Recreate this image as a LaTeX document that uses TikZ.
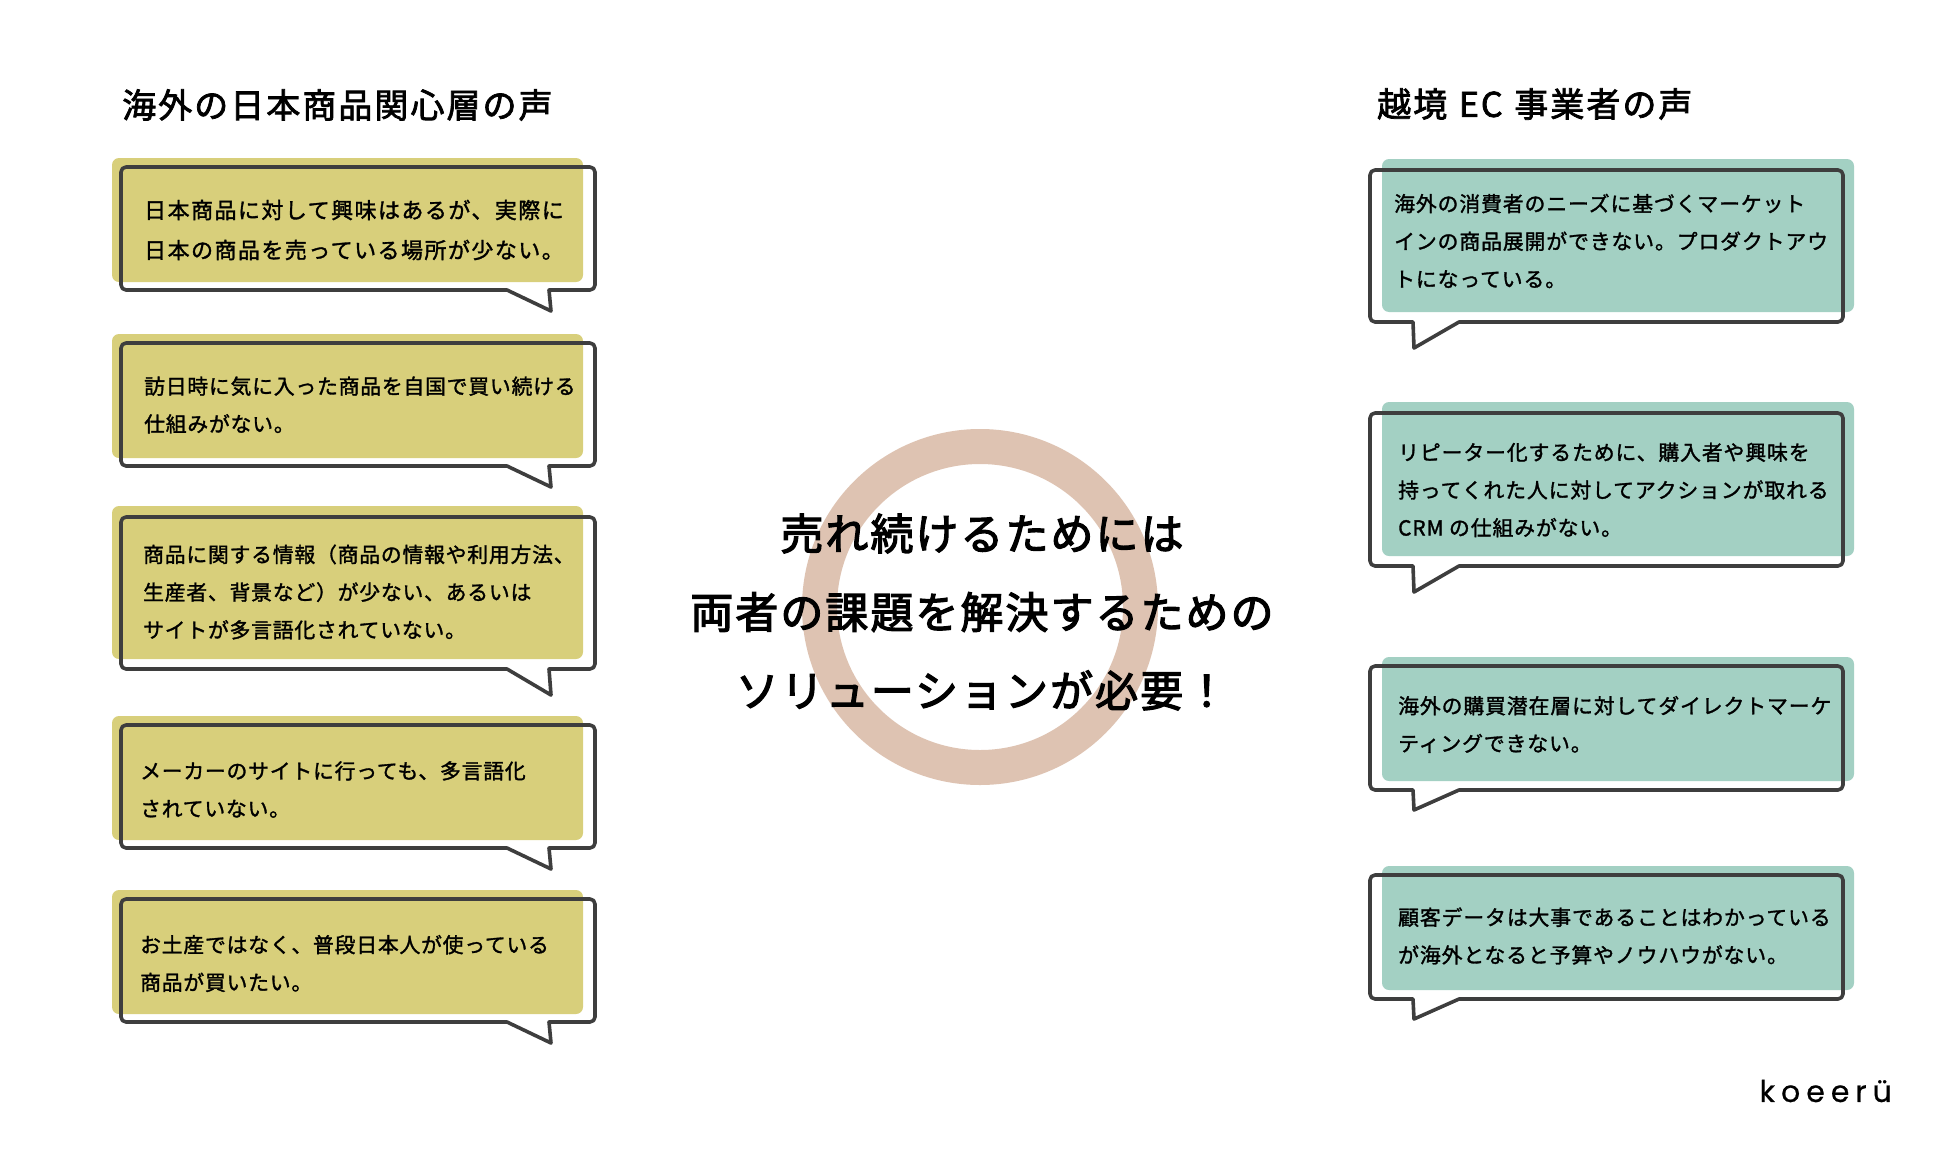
\documentclass[tikz,border=0pt]{standalone}
\usepackage{fontspec}
\usepackage{xcolor}
\usetikzlibrary{positioning}
\setmainfont{Noto Sans CJK JP}
\newfontfamily\logofont{Poppins}
\definecolor{voiceyellow}{RGB}{216, 207, 123}
\definecolor{voiceteal}{RGB}{163, 208, 195}
\definecolor{ringpink}{RGB}{222, 195, 178}
\definecolor{lineink}{RGB}{62, 62, 62}
\tikzset{
 bubble/.style={
 draw=lineink,
 line width=3.6pt,
 rounded corners=5pt,
 line join=round
 },
 voice/.style={
 anchor=west,
 align=left,
 inner sep=0pt,
 font=\fontsize{20.8}{37.7}\selectfont\addfontfeature{LetterSpace=3.9,FakeBold=1.5}
 },
 voiceright/.style={
 voice,
 font=\fontsize{20.8}{37.7}\selectfont\addfontfeature{LetterSpace=4.5,FakeBold=1.5}
 },
 heading/.style={
 anchor=west,
 inner sep=0pt,
 font=\fontsize{34}{38}\selectfont\addfontfeature{LetterSpace=6,FakeBold=2.2}
 },
 message/.style={
 inner sep=0pt,
 font=\fontsize{43}{78.5}\selectfont\addfontfeature{LetterSpace=4.7,FakeBold=2.8},
 align=center
 }
}
\begin{document}
\begin{tikzpicture}[x=1pt,y=-1pt]
 \useasboundingbox (0,0) rectangle (1950,1154);
 \draw[ringpink, line width=35pt] (980,607) circle (160.5pt);

 % left column
 \foreach \ftop/\fbot/\ltop/\lbot/\tip in {158/282/167/290/311, 334/458/343/466/487, 506/659/517/669/695, 716/840/725/848/869, 890/1014/899/1022/1043}{
 \fill[voiceyellow, rounded corners=7pt] (112,\ftop) rectangle (583,\fbot);
 \draw[bubble] (121,\ltop) -- (595,\ltop) -- (595,\lbot) [sharp corners] -- (549,\lbot) -- (551,\tip) -- (507,\lbot) [rounded corners=5pt] -- (121,\lbot) -- cycle;
 }
 % right column
 \foreach \ftop/\fbot/\ltop/\lbot/\tip in {159/312/170/322/348, 402/556/413/566/592, 657/781/666/790/810, 866/990/875/999/1019}{
 \fill[voiceteal, rounded corners=7pt] (1382,\ftop) rectangle (1854,\fbot);
 \draw[bubble] (1370,\ltop) -- (1843,\ltop) -- (1843,\lbot) [sharp corners] -- (1459,\lbot) -- (1414,\tip) -- (1413,\lbot) [rounded corners=5pt] -- (1370,\lbot) -- cycle;
 }

 \node[heading] (headleft) at (122,105) {海外の日本商品関心層の声};
 \node[heading] (headright) at (1377,104) {越境\hspace{2pt} EC\hspace{2pt} 事業者の声};

 \node[voice, font=\fontsize{22}{40}\selectfont\addfontfeature{LetterSpace=6.6,FakeBold=1.5}] (left1) at (144,230) {日本商品に対して興味はあるが、実際に\\日本の商品を売っている場所が少ない。};
 \node[voice] (left2) at (144,405) {訪日時に気に入った商品を自国で買い続ける\\仕組みがない。};
 \node[voice] (left3) at (143,592) {商品に関する情報（商品の情報や利用方法、\\生産者、背景など）が少ない、あるいは\\サイトが多言語化されていない。};
 \node[voice] (left4) at (140,789.5) {メーカーのサイトに行っても、多言語化\\されていない。};
 \node[voice] (left5) at (140,963.5) {お土産ではなく、普段日本人が使っている\\商品が買いたい。};

 \node[voiceright] (right1) at (1394,241) {海外の消費者のニーズに基づくマーケット\\インの商品展開ができない。プロダクトアウ\\トになっている。};
 \node[voiceright] (right2) at (1398,490) {リピーター化するために、購入者や興味を\\持ってくれた人に対してアクションが取れる\\CRM の仕組みがない。};
 \node[voiceright] (right3) at (1398,724.5) {海外の購買潜在層に対してダイレクトマーケ\\ティングできない。};
 \node[voiceright] (right4) at (1398,936) {顧客データは大事であることはわかっている\\が海外となると予算やノウハウがない。};

 \node[message] (center) at (982,612) {売れ続けるためには\\両者の課題を解決するための\\ソリューションが必要！};

 \node[anchor=east, inner sep=0pt, font=\logofont\fontsize{30}{32}\selectfont\addfontfeature{LetterSpace=20,FakeBold=0.6}] (logo) at (1892,1091) {koeerü};
\end{tikzpicture}
\end{document}
